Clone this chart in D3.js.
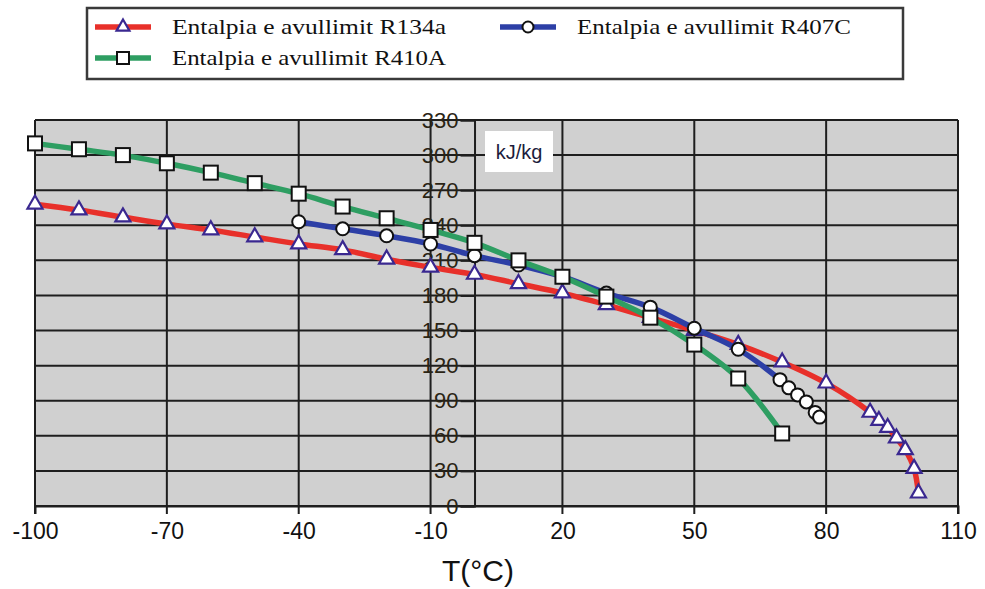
<!DOCTYPE html>
<html>
<head>
<meta charset="utf-8">
<script src="https://cdn.jsdelivr.net/npm/d3@7"></script>
<style>
  body { margin: 0; background: #fff; }
  svg { display: block; }
</style>
</head>
<body>
<div id="chart"></div>
<script>
/** Data **/
const seriesNames = [
  'Entalpia e avullimit R134a',
  'Entalpia e avullimit R407C',
  'Entalpia e avullimit R410A',
];
const tempR134a = [-100, -90, -80, -70, -60, -50, -40, -30, -20, -10, 0, 10, 20, 30, 40, 50, 60, 70, 80, 90, 92, 94, 96, 98, 100, 101];
const hR134a = [258, 253, 247, 241, 236, 230, 224, 219, 211, 204, 198, 190, 182, 172, 161, 150, 138, 123, 105, 80, 73, 67, 58, 48, 32, 11];
const tempR407C = [-40, -30, -20, -10, 0, 10, 20, 30, 40, 50, 60, 69.5, 71.5, 73.5, 75.5, 77.5, 78.5];
const hR407C = [243, 237, 231, 224, 214, 206, 196, 182, 170, 152, 134, 108, 101, 95, 89, 80, 76];
const tempR410A = [-100, -90, -80, -70, -60, -50, -40, -30, -20, -10, 0, 10, 20, 30, 40, 50, 60, 70];
const hR410A = [310, 305, 300, 293, 285, 276, 267, 256, 246, 236, 225, 210, 196, 179, 161, 138, 109, 62];
const xTicks = [-100, -70, -40, -10, 20, 50, 80, 110];
const yTicks = [0, 30, 60, 90, 120, 150, 180, 210, 240, 270, 300, 330];

/** Svg and plot frame **/
const width = 985;
const height = 589;
const plot = { left: 35, right: 958, top: 120, bottom: 506 };

const svg = d3
  .select('#chart')
  .append('svg')
  .attr('width', width)
  .attr('height', height);

const x = d3.scaleLinear().domain([-100, 110]).range([plot.left, plot.right]);
const y = d3.scaleLinear().domain([0, 330]).range([plot.bottom, plot.top]);

svg
  .append('rect')
  .attr('x', plot.left)
  .attr('y', plot.top)
  .attr('width', plot.right - plot.left)
  .attr('height', plot.bottom - plot.top)
  .attr('fill', '#d0d0d0');

// grid lines
svg
  .append('g')
  .selectAll('line')
  .data(yTicks)
  .join('line')
  .attr('x1', plot.left)
  .attr('x2', plot.right)
  .attr('y1', (d) => y(d))
  .attr('y2', (d) => y(d))
  .attr('stroke', '#1e1e1e')
  .attr('stroke-width', 2);

svg
  .append('g')
  .selectAll('line')
  .data(xTicks)
  .join('line')
  .attr('x1', (d) => x(d))
  .attr('x2', (d) => x(d))
  .attr('y1', plot.top)
  .attr('y2', plot.bottom + 8)
  .attr('stroke', '#1e1e1e')
  .attr('stroke-width', 2);

/** Axes **/
const xAxis = svg
  .append('g')
  .attr('transform', `translate(0, ${plot.bottom})`)
  .call(
    d3
      .axisBottom(x)
      .tickValues(xTicks)
      .tickFormat((d) => String(d))
      .tickSize(8)
      .tickPadding(9)
  );
xAxis.select('.domain').attr('stroke', '#1e1e1e').attr('stroke-width', 2);
xAxis.selectAll('.tick line').remove();
xAxis
  .selectAll('text')
  .attr('font-family', 'Liberation Sans, Arial, sans-serif')
  .attr('font-size', 23)
  .attr('fill', '#111');

// y axis sits at T = 0
const yAxis = svg
  .append('g')
  .attr('transform', `translate(${x(0)}, 0)`)
  .call(d3.axisLeft(y).tickValues(yTicks).tickSize(14).tickPadding(2));
yAxis.select('.domain').attr('stroke', '#1e1e1e').attr('stroke-width', 2);
yAxis.selectAll('.tick line').attr('stroke', '#1e1e1e').attr('stroke-width', 2);
yAxis
  .selectAll('text')
  .attr('font-family', 'Liberation Sans, Arial, sans-serif')
  .attr('font-size', 22)
  .attr('fill', '#2a2414');

svg
  .append('text')
  .attr('x', 478)
  .attr('y', 581)
  .attr('text-anchor', 'middle')
  .attr('font-family', 'Liberation Sans, Arial, sans-serif')
  .attr('font-size', 30)
  .attr('fill', '#111')
  .text('T(°C)');

// unit label box
svg
  .append('rect')
  .attr('x', 485)
  .attr('y', 131)
  .attr('width', 68)
  .attr('height', 41)
  .attr('fill', '#fff');
svg
  .append('text')
  .attr('x', 519)
  .attr('y', 159)
  .attr('text-anchor', 'middle')
  .attr('font-family', 'Liberation Sans, Arial, sans-serif')
  .attr('font-size', 20)
  .attr('fill', '#1c1c3c')
  .text('kJ/kg');

/** Series **/
const series = [
  { name: seriesNames[0], temps: tempR134a, values: hR134a, color: '#e8302a', marker: 'triangle' },
  { name: seriesNames[1], temps: tempR407C, values: hR407C, color: '#2d3fa6', marker: 'circle' },
  { name: seriesNames[2], temps: tempR410A, values: hR410A, color: '#2e9e62', marker: 'square' },
];

const line = d3
  .line()
  .x((d) => x(d[0]))
  .y((d) => y(d[1]))
  .curve(d3.curveCatmullRom.alpha(0.5));

function drawMarker(g, type, size) {
  if (type === 'triangle') {
    g.append('path')
      .attr('d', d3.symbol(d3.symbolTriangle, size * size * 0.5)())
      .attr('fill', '#fff')
      .attr('stroke', '#3a2890')
      .attr('stroke-width', 2.2);
  } else if (type === 'circle') {
    g.append('circle')
      .attr('r', size / 2)
      .attr('fill', '#fff')
      .attr('stroke', '#111')
      .attr('stroke-width', 2);
  } else {
    g.append('rect')
      .attr('x', -size / 2)
      .attr('y', -size / 2)
      .attr('width', size)
      .attr('height', size)
      .attr('fill', '#fff')
      .attr('stroke', '#111')
      .attr('stroke-width', 2);
  }
}

series.forEach((s) => {
  const pts = s.temps.map((t, i) => [t, s.values[i]]);
  svg
    .append('path')
    .datum(pts)
    .attr('d', line)
    .attr('fill', 'none')
    .attr('stroke', s.color)
    .attr('stroke-width', 5.5)
    .attr('stroke-linejoin', 'round');

  svg
    .append('g')
    .selectAll('g')
    .data(pts)
    .join('g')
    .attr('transform', (d) => `translate(${x(d[0])}, ${y(d[1])})`)
    .each(function () {
      drawMarker(d3.select(this), s.marker, s.marker === 'circle' ? 13 : 14);
    });
});

/** Legend **/
const legend = svg.append('g');
legend
  .append('rect')
  .attr('x', 87)
  .attr('y', 8)
  .attr('width', 816)
  .attr('height', 71)
  .attr('fill', '#fff')
  .attr('stroke', '#3a3a3a')
  .attr('stroke-width', 2.5);

const legendPos = [
  { x: 95, y: 27 },
  { x: 500, y: 27 },
  { x: 95, y: 58 },
];

series.forEach((s, i) => {
  const p = legendPos[i];
  const item = legend.append('g').attr('transform', `translate(${p.x}, ${p.y})`);
  item
    .append('line')
    .attr('x1', 0)
    .attr('x2', 56)
    .attr('stroke', s.color)
    .attr('stroke-width', 5.5);
  const m = item.append('g').attr('transform', 'translate(28, 0)');
  drawMarker(m, s.marker, s.marker === 'circle' ? 11 : 12);
  item
    .append('text')
    .attr('x', 77)
    .attr('y', 7)
    .attr('font-family', 'Liberation Serif, Times New Roman, serif')
    .attr('font-size', 22)
    .attr('textLength', 274)
    .attr('lengthAdjust', 'spacingAndGlyphs')
    .attr('fill', '#111')
    .text(s.name);
});
</script>
</body>
</html>
